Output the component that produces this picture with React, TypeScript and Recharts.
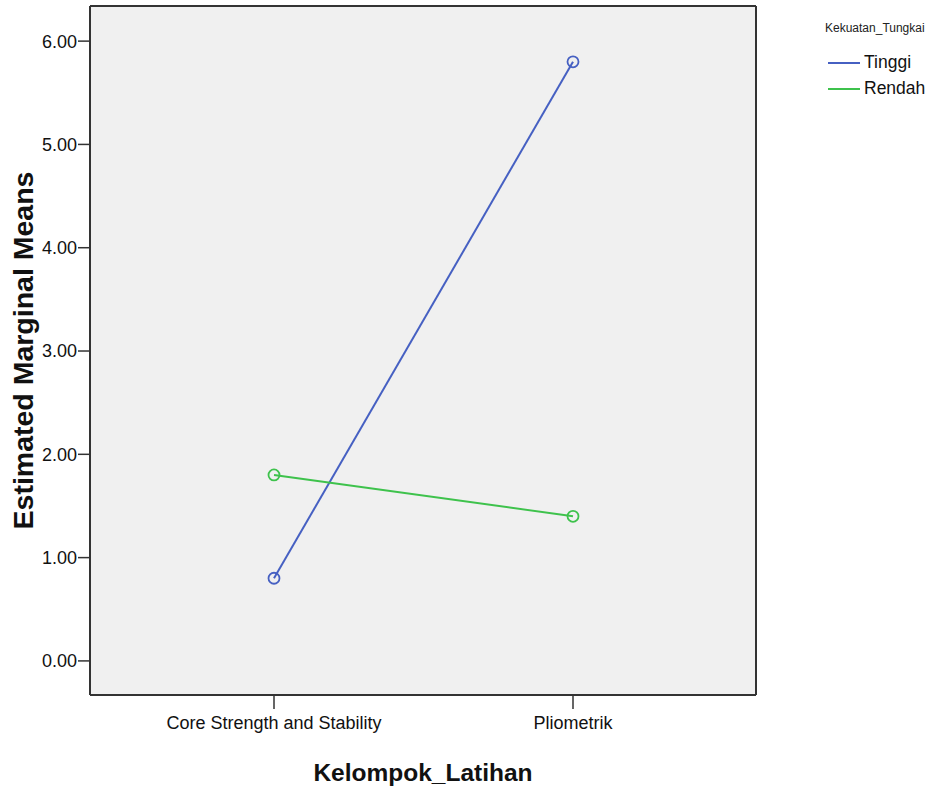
import React from 'react';
import { LineChart, Line, XAxis, YAxis, CartesianGrid } from 'recharts';

const categories = ['Core Strength and Stability', 'Pliometrik'];
const tinggi = [0.8, 5.8];
const rendah = [1.8, 1.4];
const yTicks = [0, 1, 2, 3, 4, 5, 6];
const seriesNames = ['Tinggi', 'Rendah'];
const legendTitle = 'Kekuatan_Tungkai';
const xTitle = 'Kelompok_Latihan';
const yTitle = 'Estimated Marginal Means';

const data = categories.map((c, i) => ({ cat: c, Tinggi: tinggi[i], Rendah: rendah[i] }));

const BLUE = '#4660c2';
const GREEN = '#3ec24c';
const FONT = '"Liberation Sans", Arial, sans-serif';
const seriesColors = [BLUE, GREEN];

const LegendBlock = () => (
  <div style={{ fontFamily: FONT, position: 'absolute', left: 825, top: 21, width: 130, height: 100 }}>
    <div style={{ position: 'absolute', left: 0, top: 0, fontSize: 12, color: '#222', whiteSpace: 'nowrap' }}>{legendTitle}</div>
    {seriesNames.map((n, i) => (
      <div key={n} style={{ position: 'absolute', left: 3, top: 31 + i * 26, display: 'flex', alignItems: 'center' }}>
        <div style={{ width: 32, height: 2, background: seriesColors[i] }} />
        <span style={{ marginLeft: 4, fontSize: 17.5, color: '#111' }}>{n}</span>
      </div>
    ))}
  </div>
);

const YTitle = (props: any) => {
  const vb = props.viewBox || {};
  const cy = vb.y + vb.height / 2;
  return (
    <text x={23} y={cy} transform={`rotate(-90, 23, ${cy})`} textAnchor="middle" dominantBaseline="central"
      style={{ fontFamily: FONT, fontWeight: 'bold', fontSize: 28.5, fill: '#111' }}>{yTitle}</text>
  );
};

const XTitle = (props: any) => {
  const vb = props.viewBox || {};
  const cx = vb.x + vb.width / 2;
  return (
    <text x={cx} y={772} textAnchor="middle" dominantBaseline="central"
      style={{ fontFamily: FONT, fontWeight: 'bold', fontSize: 24.5, fill: '#111' }}>{xTitle}</text>
  );
};

const Dot = (color: string) => (p: any) => (
  <circle key={`${color}-${p.index}`} cx={p.cx} cy={p.cy} r={5.5} fill="none" stroke={color} strokeWidth={1.8} />
);

export default function App() {
  return (
    <div style={{ position: 'absolute', left: 0, top: 0, width: 935, height: 794, background: '#fff' }}>
      <LineChart width={935} height={794} data={data} margin={{ top: 6, right: 179, left: 0, bottom: 0 }}>
        <CartesianGrid fill="#f0f0f0" stroke="#333" strokeWidth={2}
          horizontalCoordinatesGenerator={({ offset }: any) => [offset.top]}
          verticalCoordinatesGenerator={({ offset }: any) => [offset.left + offset.width]} />
        <XAxis dataKey="cat" padding={{ left: 184, right: 183 }} height={99} tickSize={14} tickMargin={7}
          axisLine={{ stroke: '#333', strokeWidth: 2 }} tickLine={{ stroke: '#333', strokeWidth: 1.5 }}
          tick={{ fontFamily: FONT, fontSize: 18, fill: '#111' }} label={<XTitle />} />
        <YAxis type="number" domain={[-0.33, 6.34]} ticks={yTicks} width={90} tickSize={12} tickMargin={1}
          allowDataOverflow
          tickFormatter={(v: number) => v.toFixed(2)}
          axisLine={{ stroke: '#333', strokeWidth: 2 }} tickLine={{ stroke: '#333', strokeWidth: 1.5 }}
          tick={{ fontFamily: FONT, fontSize: 18, fill: '#111' }} label={<YTitle />} />
        <Line dataKey="Tinggi" stroke={BLUE} strokeWidth={2} dot={Dot(BLUE)} activeDot={false} isAnimationActive={false} />
        <Line dataKey="Rendah" stroke={GREEN} strokeWidth={2} dot={Dot(GREEN)} activeDot={false} isAnimationActive={false} />
      </LineChart>
      <LegendBlock />
    </div>
  );
}
